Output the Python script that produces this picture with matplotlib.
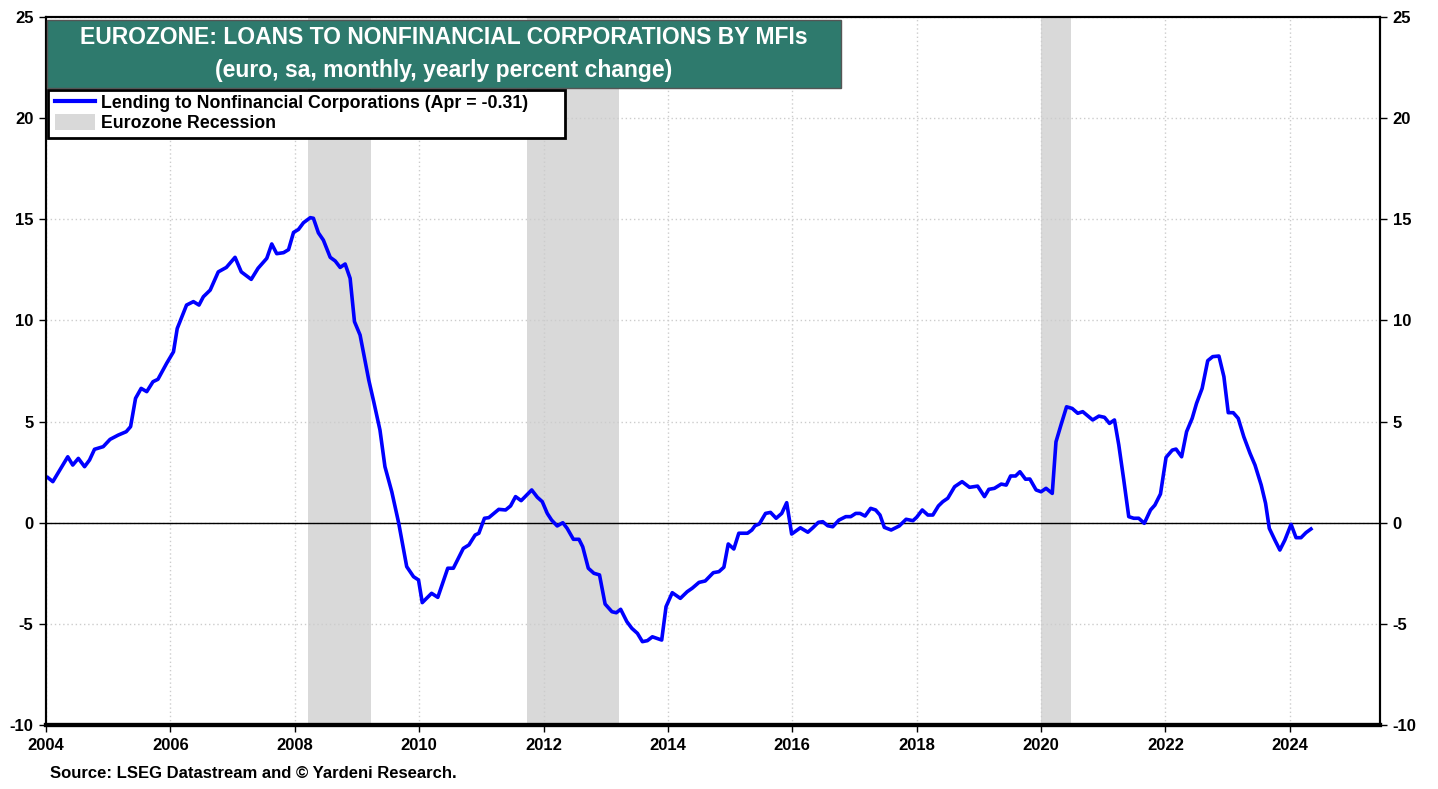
import numpy as np
import matplotlib
matplotlib.use('Agg')
import matplotlib.pyplot as plt
from matplotlib.patches import Patch, Rectangle
from matplotlib.lines import Line2D

plt.rcParams['font.family'] = ['Liberation Sans', 'DejaVu Sans']
plt.rcParams['font.weight'] = 'bold'

# decimal year of each monthly reading and yearly % change
years = [2004.03, 2004.11, 2004.35, 2004.43, 2004.52, 2004.62, 2004.70, 2004.78, 2004.92,
         2005.03, 2005.16, 2005.29, 2005.36, 2005.44, 2005.53, 2005.62, 2005.72, 2005.80, 2005.94,
         2006.05, 2006.11, 2006.26, 2006.37, 2006.46, 2006.53, 2006.64, 2006.77, 2006.90,
         2007.04, 2007.14, 2007.30, 2007.41, 2007.55, 2007.63, 2007.71, 2007.82, 2007.90, 2007.98,
         2008.06, 2008.14, 2008.25, 2008.30, 2008.38, 2008.46, 2008.57, 2008.65, 2008.73, 2008.81,
         2008.89, 2008.96, 2009.05, 2009.19, 2009.27, 2009.37, 2009.45, 2009.56, 2009.67, 2009.80,
         2009.91, 2009.99, 2010.05, 2010.20, 2010.30, 2010.46, 2010.55, 2010.71, 2010.80, 2010.90,
         2010.96, 2011.05, 2011.12, 2011.28, 2011.39, 2011.47, 2011.55, 2011.64, 2011.81, 2011.90,
         2011.98, 2012.06, 2012.13, 2012.22, 2012.31, 2012.38, 2012.48, 2012.57, 2012.63, 2012.72,
         2012.81, 2012.90, 2012.99, 2013.10, 2013.17, 2013.24, 2013.34, 2013.42, 2013.51, 2013.59,
         2013.67, 2013.75, 2013.90, 2013.97, 2014.07, 2014.20, 2014.31, 2014.39, 2014.50, 2014.60,
         2014.73, 2014.82, 2014.90, 2014.97, 2015.06, 2015.14, 2015.28, 2015.35, 2015.40, 2015.47,
         2015.57, 2015.65, 2015.74, 2015.83, 2015.91, 2015.99, 2016.13, 2016.25, 2016.33, 2016.42,
         2016.49, 2016.57, 2016.65, 2016.75, 2016.86, 2016.94, 2017.02, 2017.09, 2017.17, 2017.26,
         2017.34, 2017.41, 2017.48, 2017.59, 2017.72, 2017.83, 2017.94, 2018.00, 2018.09, 2018.18,
         2018.26, 2018.35, 2018.42, 2018.50, 2018.61, 2018.73, 2018.85, 2018.98, 2019.09, 2019.16,
         2019.25, 2019.36, 2019.44, 2019.51, 2019.59, 2019.66, 2019.75, 2019.82, 2019.92, 2020.00,
         2020.08, 2020.18, 2020.24, 2020.32, 2020.41, 2020.50, 2020.59, 2020.67, 2020.83, 2020.93,
         2021.02, 2021.10, 2021.18, 2021.25, 2021.33, 2021.41, 2021.49, 2021.57, 2021.66, 2021.76,
         2021.83, 2021.92, 2022.01, 2022.11, 2022.17, 2022.26, 2022.34, 2022.43, 2022.50, 2022.59,
         2022.68, 2022.76, 2022.86, 2022.94, 2023.01, 2023.09, 2023.17, 2023.26, 2023.36, 2023.44,
         2023.54, 2023.61, 2023.67, 2023.76, 2023.84, 2023.92, 2024.02, 2024.10, 2024.18, 2024.26,
         2024.34]
lending = [2.23, 2.03, 3.26, 2.85, 3.18, 2.77, 3.10, 3.63, 3.76,
           4.12, 4.33, 4.50, 4.75, 6.15, 6.64, 6.48, 6.97, 7.09, 7.88,
           8.45, 9.60, 10.76, 10.93, 10.76, 11.17, 11.50, 12.40, 12.62,
           13.12, 12.40, 12.03, 12.58, 13.07, 13.78, 13.30, 13.35, 13.50, 14.35,
           14.50, 14.83, 15.08, 15.05, 14.33, 13.97, 13.12, 12.94, 12.62, 12.79,
           12.08, 9.94, 9.28, 7.05, 5.98, 4.58, 2.77, 1.53, 0.00, -2.17,
           -2.67, -2.83, -3.95, -3.49, -3.69, -2.25, -2.25, -1.27, -1.10, -0.61,
           -0.52, 0.22, 0.25, 0.66, 0.63, 0.83, 1.29, 1.09, 1.62, 1.26,
           1.04, 0.46, 0.13, -0.16, 0.00, -0.28, -0.82, -0.82, -1.19, -2.25,
           -2.50, -2.58, -4.02, -4.40, -4.45, -4.28, -4.89, -5.22, -5.47, -5.88,
           -5.83, -5.64, -5.80, -4.15, -3.46, -3.74, -3.41, -3.24, -2.95, -2.88,
           -2.47, -2.42, -2.20, -1.05, -1.30, -0.52, -0.52, -0.36, -0.15, -0.06,
           0.46, 0.51, 0.22, 0.46, 0.99, -0.56, -0.25, -0.47, -0.25, 0.02,
           0.05, -0.15, -0.20, 0.13, 0.30, 0.30, 0.46, 0.46, 0.33, 0.71,
           0.63, 0.38, -0.23, -0.36, -0.16, 0.17, 0.10, 0.27, 0.63, 0.38,
           0.38, 0.83, 1.04, 1.21, 1.78, 2.03, 1.75, 1.81, 1.29, 1.65,
           1.70, 1.91, 1.86, 2.31, 2.31, 2.52, 2.15, 2.16, 1.62, 1.53,
           1.70, 1.45, 4.00, 4.83, 5.73, 5.65, 5.41, 5.49, 5.08, 5.27,
           5.21, 4.91, 5.08, 3.84, 2.11, 0.30, 0.22, 0.22, -0.03, 0.63,
           0.87, 1.42, 3.23, 3.59, 3.64, 3.26, 4.50, 5.16, 5.90, 6.64,
           8.01, 8.21, 8.24, 7.22, 5.44, 5.44, 5.16, 4.25, 3.43, 2.85,
           1.86, 0.96, -0.28, -0.86, -1.35, -0.86, -0.08, -0.74, -0.74, -0.49,
           -0.31]

recessions = [(2008.22, 2009.22), (2011.73, 2013.22), (2020.0, 2020.48)]

xticks = list(range(2004, 2025, 2))
yticks = [-10, -5, 0, 5, 10, 15, 20, 25]

W, H = 1438, 789


def fx(px):
    return px / W


def fy(py):
    return 1 - py / H


fig = plt.figure(figsize=(W / 100, H / 100), dpi=100)
ax = fig.add_axes([fx(46), fy(725), (1380 - 46) / W, (725 - 17) / H])
ax.set_axisbelow(True)

for start, end in recessions:
    ax.axvspan(start, end, color='#d9d9d9', lw=0, zorder=0)

ax.axhline(0, color='black', lw=1, zorder=2)
ax.plot(years, lending, color='#0000ff', lw=2.6, zorder=3, solid_joinstyle='round')

ax.set_xlim(2004, 2025.45)
ax.set_ylim(-10, 25)
ax.set_xticks(xticks)
ax.set_yticks(yticks)
ax.set_xticklabels([str(t) for t in xticks], fontsize=12, fontweight='bold')
ax.set_yticklabels([str(t) for t in yticks], fontsize=12, fontweight='bold')
ax.grid(True, color='#cccccc', linestyle=(0, (1, 2)), lw=1)
ax.tick_params(direction='out', length=5, width=1, pad=4)

ax2 = ax.twinx()
ax2.set_ylim(-10, 25)
ax2.set_yticks(yticks)
ax2.set_yticklabels([str(t) for t in yticks], fontsize=12, fontweight='bold')
ax2.tick_params(direction='out', length=5, width=1, pad=4)

for a in (ax, ax2):
    for side in ('left', 'right', 'top'):
        a.spines[side].set_linewidth(1.5)
    a.spines['bottom'].set_linewidth(3)

# title box
ax2.add_patch(Rectangle((fx(47), fy(88)), fx(841) - fx(47), fy(20) - fy(88), transform=fig.transFigure,
                        facecolor='#2e7a6d', edgecolor='#555555', lw=1, zorder=6, clip_on=False))
fig.text(fx(444), fy(38), 'EUROZONE: LOANS TO NONFINANCIAL CORPORATIONS BY MFIs',
         ha='center', va='center', color='white', fontsize=16.5, fontweight='bold', zorder=7)
fig.text(fx(444), fy(70), '(euro, sa, monthly, yearly percent change)',
         ha='center', va='center', color='white', fontsize=16.5, fontweight='bold', zorder=7)

# legend box
ax2.add_patch(Rectangle((fx(48), fy(138)), fx(565) - fx(48), fy(90) - fy(138), transform=fig.transFigure,
                        facecolor='white', edgecolor='black', lw=2, zorder=6, clip_on=False))
handles = [Line2D([], [], color='#0000ff', lw=3), Patch(facecolor='#d9d9d9', edgecolor='none')]
labels = ['Lending to Nonfinancial Corporations (Apr = -0.31)', 'Eurozone Recession']
leg = ax2.legend(handles, labels, loc='upper left', bbox_to_anchor=(fx(55), fy(94)),
                 bbox_transform=fig.transFigure, fontsize=12.8, frameon=False,
                 borderpad=0, labelspacing=0.1, handlelength=2.25, handleheight=1.0,
                 handletextpad=0.35, borderaxespad=0)
leg.set_zorder(8)

fig.text(fx(50), fy(773), 'Source: LSEG Datastream and \u00a9 Yardeni Research.',
         fontsize=12, fontweight='bold', va='center', ha='left')

fig.savefig('out.png', dpi=100)
